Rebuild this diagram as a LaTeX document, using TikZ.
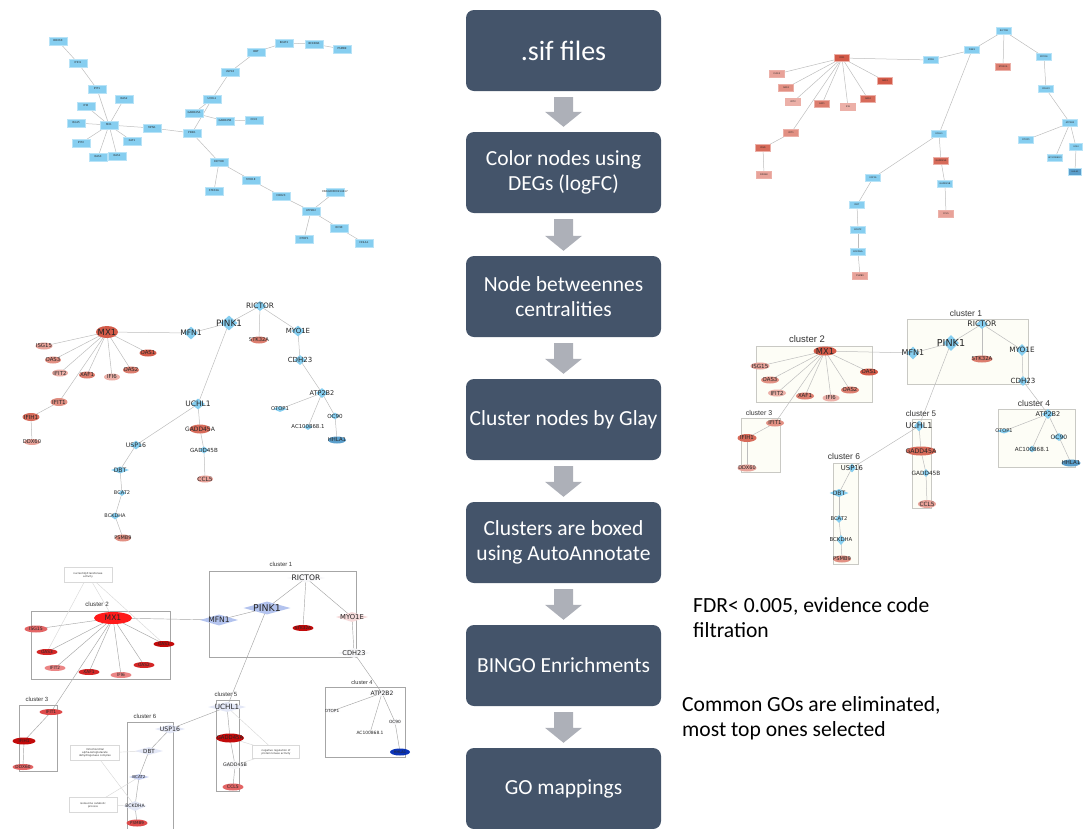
\documentclass[tikz,border=0pt]{standalone}
\usepackage{fontspec}
\setmainfont{Carlito}
\newfontfamily\netfont{DejaVu Sans}
\newfontfamily\clfont{Liberation Sans}
\usetikzlibrary{shapes.geometric,calc}
\pgfdeclarelayer{clusters}
\pgfdeclarelayer{links}
\pgfsetlayers{clusters,links,main}

% workflow colours
\definecolor{stepfill}{HTML}{44546A}
\definecolor{stepgray}{HTML}{ADB0B8}
% Cytoscape-style node colours
\definecolor{sky}{HTML}{86CEF0}
\definecolor{skyedge}{HTML}{B8E3F7}
\definecolor{skydark}{HTML}{5A9ECB}
\definecolor{rA}{HTML}{D35A48}
\definecolor{rB}{HTML}{D76B5A}
\definecolor{rC}{HTML}{DC7D6E}
\definecolor{rD}{HTML}{E29083}
\definecolor{rE}{HTML}{E8A299}
\definecolor{rF}{HTML}{ECB0A8}
\definecolor{linkgray}{HTML}{BDBDBD}
\definecolor{clfill}{HTML}{FDFDF6}
\definecolor{clline}{HTML}{C9C9C4}
% BINGO view colours
\definecolor{eMX}{HTML}{FF1A1A}
\definecolor{eR1}{HTML}{C20A0A}
\definecolor{eR2}{HTML}{D42626}
\definecolor{eR3}{HTML}{DE4A4A}
\definecolor{eR4}{HTML}{E36565}
\definecolor{eR5}{HTML}{EB8585}
\definecolor{eLav}{HTML}{B3C3EE}
\definecolor{eLav2}{HTML}{C6CFF0}
\definecolor{eLav3}{HTML}{E3E7F6}
\definecolor{ePink}{HTML}{F6DADA}
\definecolor{eWhite}{HTML}{F6F6F8}
\definecolor{eBlue}{HTML}{0B33B5}

% gene node: shape style, name, position, width, height, font size, label
\newcommand{\gn}[7]{%
  \node[#1, minimum width=#4pt, minimum height=#5pt] (#2) at (#3) {};
  \node[glabel, font={\netfont\fontsize{#6}{#6}\selectfont}] (#2t) at (#2.center) {#7};}

% interaction edges shared by all network views
\newcommand{\netlinks}[2]{%
  \begin{pgfonlayer}{links}
  \foreach \u/\v in {MX1/ISG15,MX1/OAS3,MX1/IFIT2,MX1/XAF1,MX1/IFI6,MX1/OAS2,MX1/OAS1,MX1/IFIT1,
      IFIT1/IFIH1,IFIH1/DDX60,MX1/MFN1,MFN1/PINK1,PINK1/RICTOR,RICTOR/STK32A,RICTOR/MYO1E,
      MYO1E/CDH23,CDH23/ATP2B2,ATP2B2/OTOP1,ATP2B2/AC,ATP2B2/OC90,OC90/HHLA1,PINK1/UCHL1,
      UCHL1/GADD45A,GADD45A/GADD45B,GADD45B/CCL5,UCHL1/USP16,USP16/DBT,DBT/BCAT2,
      BCAT2/BCKDHA,BCKDHA/PSMB9}
    {\draw[#2] (#1\u.center) -- (#1\v.center);}
  \end{pgfonlayer}}

\begin{document}
\begin{tikzpicture}[x=1pt,y=-1pt,
  flowbox/.style={rectangle, rounded corners=8pt, fill=stepfill, text=white,
    minimum width=195pt, minimum height=81pt, align=center, inner sep=0pt,
    font=\fontsize{21.5}{25}\selectfont},
  notetext/.style={anchor=base west, inner sep=0pt, text=black,
    font=\fontsize{21.6}{25}\selectfont},
  rectA/.style={rectangle, fill=sky, draw=skyedge, line width=0.5pt, inner sep=0pt},
  ell/.style={ellipse, inner sep=0pt},
  dia/.style={diamond, inner sep=0pt},
  glabel/.style={inner sep=0pt, text=black!85},
  link/.style={draw=linkgray, line width=0.5pt},
  linkE/.style={draw=black!35, line width=0.45pt},
  golink/.style={draw=black!15, line width=0.45pt},
  gobox/.style={rectangle, draw=black!15, fill=white, line width=0.4pt, inner sep=0pt,
    align=center, text=black!80, font={\netfont\fontsize{2.6}{3.1}\selectfont}},
  clboxD/.style={draw=clline, fill=clfill, line width=0.6pt},
  clboxE/.style={draw=black!35, fill=white, line width=0.5pt},
  cltext/.style={inner sep=0pt, text=black!80},
]
\useasboundingbox (0,0) rectangle (1083,828);

%% ---------------- workflow column ----------------
\node[flowbox, font=\fontsize{28}{32}\selectfont] (s1) at (563.5,50.5) {.sif files};
\node[flowbox] (s2) at (563.5,172.5) {Color nodes using\\DEGs (logFC)};
\node[flowbox] (s3) at (563.5,296.5) {Node betweennes\\centralities};
\node[flowbox] (s4) at (563.5,419.5) {Cluster nodes by Glay};
\node[flowbox] (s5) at (563.5,542.5) {Clusters are boxed\\using AutoAnnotate};
\node[flowbox] (s6) at (563.5,665.5) {BINGO Enrichments};
\node[flowbox] (s7) at (563.5,788.5) {GO mappings};

\foreach \a/\b in {s1/s2,s2/s3,s3/s4,s4/s5,s5/s6,s6/s7}{
  \fill[stepgray] ($(\a.south)+(-9.5,6)$) -- ($(\a.south)+(9.5,6)$)
    -- ($(\b.north)+(9.5,-20)$) -- ($(\b.north)+(18.5,-20)$) -- ($(\b.north)+(0,-5)$)
    -- ($(\b.north)+(-18.5,-20)$) -- ($(\b.north)+(-9.5,-20)$) -- cycle;
}

\node[notetext] (n1a) at (693,612) {FDR< 0.005, evidence code};
\node[notetext] (n1b) at (693,637) {filtration};
\node[notetext] (n2a) at (682,711) {Common GOs are eliminated,};
\node[notetext] (n2b) at (682,736) {most top ones selected};

%% ---------------- network from .sif (top left) ----------------
\gn{rectA}{aDDX60}{58,41}{18}{8}{2.6}{DDX60}
\gn{rectA}{aIFIH1}{78,63}{18}{8}{2.6}{IFIH1}
\gn{rectA}{aIFIT1}{97,89}{18}{8}{2.6}{IFIT1}
\gn{rectA}{aOAS2}{124,99}{18}{8}{2.6}{OAS2}
\gn{rectA}{aIFI6}{86,106}{18}{8}{2.6}{IFI6}
\gn{rectA}{aISG15}{76,123}{18}{8}{2.6}{ISG15}
\gn{rectA}{aMX1}{109,125}{18}{8}{2.6}{MX1}
\gn{rectA}{aIFIT2}{81,143}{18}{8}{2.6}{IFIT2}
\gn{rectA}{aXAF1}{132,141}{18}{8}{2.6}{XAF1}
\gn{rectA}{aOAS3}{98,157}{18}{8}{2.6}{OAS3}
\gn{rectA}{aOAS1}{117,156}{18}{8}{2.6}{OAS1}
\gn{rectA}{aMFN1}{152,128}{18}{8}{2.6}{MFN1}
\gn{rectA}{aPINK1}{192,133}{18}{8}{2.6}{PINK1}
\gn{rectA}{aGADD45A}{194,113}{18}{8}{2.6}{GADD45A}
\gn{rectA}{aUCHL1}{212,99}{18}{8}{2.6}{UCHL1}
\gn{rectA}{aGADD45B}{225,121}{18}{8}{2.6}{GADD45B}
\gn{rectA}{aCCL5}{254,120}{18}{8}{2.6}{CCL5}
\gn{rectA}{aUSP16}{230,72}{18}{8}{2.6}{USP16}
\gn{rectA}{aDBT}{256,52}{18}{8}{2.6}{DBT}
\gn{rectA}{aBCAT2}{284,43}{18}{8}{2.6}{BCAT2}
\gn{rectA}{aBCKDHA}{314,44}{18}{8}{2.6}{BCKDHA}
\gn{rectA}{aPSMB9}{342,49}{18}{8}{2.6}{PSMB9}
\gn{rectA}{aRICTOR}{219,162}{18}{8}{2.6}{RICTOR}
\gn{rectA}{aSTK32A}{214,191}{18}{8}{2.6}{STK32A}
\gn{rectA}{aMYO1E}{251,180}{18}{8}{2.6}{MYO1E}
\gn{rectA}{aCDH23}{281,196}{18}{8}{2.6}{CDH23}
\gn{rectA}{aAC}{335,192}{18}{8}{2.6}{ENSG00000214417}
\gn{rectA}{aATP2B2}{311,211}{18}{8}{2.6}{ATP2B2}
\gn{rectA}{aOC90}{339,228}{18}{8}{2.6}{OC90}
\gn{rectA}{aOTOP1}{304,239}{18}{8}{2.6}{OTOP1}
\gn{rectA}{aHHLA1}{364,243}{18}{8}{2.6}{HHLA1}
\netlinks{a}{link}

%% ---------------- DEG-coloured network (top right) ----------------
\gn{rectA,fill=rA,draw=rF}{bMX1}{842,58}{15}{7}{2.2}{MX1}
\gn{rectA,fill=rE,draw=rF}{bISG15}{777,74}{15}{7}{2.2}{ISG15}
\gn{rectA,fill=rD,draw=rF}{bOAS3}{786,88}{15}{7}{2.2}{OAS3}
\gn{rectA,fill=rF,draw=rF}{bIFIT2}{793,102}{15}{7}{2.2}{IFIT2}
\gn{rectA,fill=rC,draw=rF}{bXAF1}{822,104}{15}{7}{2.2}{XAF1}
\gn{rectA,fill=rF,draw=rF}{bIFI6}{848,107}{15}{7}{2.2}{IFI6}
\gn{rectA,fill=rB,draw=rF}{bOAS2}{868,99}{15}{7}{2.2}{OAS2}
\gn{rectA,fill=rA,draw=rF}{bOAS1}{885,81}{15}{7}{2.2}{OAS1}
\gn{rectA,fill=rD,draw=rF}{bIFIT1}{791,133}{15}{7}{2.2}{IFIT1}
\gn{rectA,fill=rB,draw=rF}{bIFIH1}{763,148}{15}{7}{2.2}{IFIH1}
\gn{rectA,fill=rE,draw=rF}{bDDX60}{764,175}{15}{7}{2.2}{DDX60}
\gn{rectA}{bMFN1}{931,60}{15}{7}{2.2}{MFN1}
\gn{rectA}{bPINK1}{972,50}{15}{7}{2.2}{PINK1}
\gn{rectA}{bRICTOR}{1004,31}{15}{7}{2.2}{RICTOR}
\gn{rectA,fill=rC,draw=rF}{bSTK32A}{1003,67}{15}{7}{2.2}{STK32A}
\gn{rectA}{bMYO1E}{1044,57}{15}{7}{2.2}{MYO1E}
\gn{rectA}{bCDH23}{1046,89}{15}{7}{2.2}{CDH23}
\gn{rectA}{bATP2B2}{1070,123}{15}{7}{2.2}{ATP2B2}
\gn{rectA}{bOTOP1}{1026,140}{15}{7}{2.2}{OTOP1}
\gn{rectA}{bAC}{1055,158}{15}{7}{2.2}{AC100868.1}
\gn{rectA}{bOC90}{1076,147}{13}{7}{2}{OC90}
\gn{rectA,fill=skydark}{bHHLA1}{1075,172}{13}{7}{2}{HHLA1}
\gn{rectA}{bUCHL1}{939,134}{15}{7}{2.2}{UCHL1}
\gn{rectA,fill=rB,draw=rF}{bGADD45A}{941,161}{15}{7}{2.2}{GADD45A}
\gn{rectA}{bGADD45B}{945,184}{15}{7}{2.2}{GADD45B}
\gn{rectA,fill=rE,draw=rF}{bCCL5}{946,214}{15}{7}{2.2}{CCL5}
\gn{rectA}{bUSP16}{873,178}{15}{7}{2.2}{USP16}
\gn{rectA}{bDBT}{857,205}{15}{7}{2.2}{DBT}
\gn{rectA}{bBCAT2}{858,230}{15}{7}{2.2}{BCAT2}
\gn{rectA}{bBCKDHA}{858,252}{15}{7}{2.2}{BCKDHA}
\gn{rectA,fill=rE,draw=rF}{bPSMB9}{860,276}{15}{7}{2.2}{PSMB9}
\netlinks{b}{link}

%% ---------------- betweenness-sized network (middle left) ----------------
\gn{ell,fill=rA}{cMX1}{107,332}{22}{12}{8.5}{MX1}
\gn{ell,fill=rE}{cISG15}{44,346}{17}{7}{5.4}{ISG15}
\gn{ell,fill=rD}{cOAS3}{53,360}{16}{7}{5.4}{OAS3}
\gn{ell,fill=rF}{cIFIT2}{60,373}{16}{7}{5.4}{IFIT2}
\gn{ell,fill=rC}{cXAF1}{87,375}{16}{7}{5.4}{XAF1}
\gn{ell,fill=rF}{cIFI6}{112,377}{16}{7}{5.4}{IFI6}
\gn{ell,fill=rC}{cOAS2}{131,370}{16}{7}{5.4}{OAS2}
\gn{ell,fill=rA}{cOAS1}{148,353}{17}{7}{5.4}{OAS1}
\gn{ell,fill=rD}{cIFIT1}{59,402}{17}{8}{5.6}{IFIT1}
\gn{ell,fill=rB}{cIFIH1}{31,417}{17}{8}{5.6}{IFIH1}
\gn{ell,fill=rE}{cDDX60}{32,442}{16}{6}{5.2}{DDX60}
\gn{dia,fill=sky}{cMFN1}{191,333}{14}{13}{7.6}{MFN1}
\gn{dia,fill=sky}{cPINK1}{229,323}{17}{15}{8.8}{PINK1}
\gn{dia,fill=sky}{cRICTOR}{260,306}{13}{10}{7.4}{RICTOR}
\gn{ell,fill=rC}{cSTK32A}{259,340}{17}{7}{5.2}{STK32A}
\gn{dia,fill=sky}{cMYO1E}{298,331}{13}{11}{7}{MYO1E}
\gn{dia,fill=sky}{cCDH23}{300,360}{12}{10}{7}{CDH23}
\gn{dia,fill=sky}{cATP2B2}{322,393}{12}{10}{6.5}{ATP2B2}
\gn{dia,fill=sky}{cOTOP1}{280,409}{14}{6}{5.2}{OTOP1}
\gn{dia,fill=sky}{cAC}{308,427}{9}{6}{5.4}{AC100868.1}
\gn{dia,fill=sky}{cOC90}{335,416}{10}{7}{5.6}{OC90}
\gn{ell,fill=skydark}{cHHLA1}{337,440}{18}{7}{5.3}{HHLA1}
\gn{dia,fill=sky}{cUCHL1}{198,404}{14}{11}{7.5}{UCHL1}
\gn{ell,fill=rB}{cGADD45A}{200,429}{21}{9}{6}{GADD45A}
\gn{dia,fill=sky}{cGADD45B}{204,450}{10}{7}{5.6}{GADD45B}
\gn{ell,fill=rE}{cCCL5}{205,479}{16}{7}{5.8}{CCL5}
\gn{dia,fill=sky}{cUSP16}{136,445}{12}{9}{6.2}{USP16}
\gn{dia,fill=sky}{cDBT}{120,470}{18}{7}{6}{DBT}
\gn{dia,fill=sky}{cBCAT2}{122,493}{8}{6}{5}{BCAT2}
\gn{dia,fill=sky}{cBCKDHA}{115,516}{10}{7}{5}{BCKDHA}
\gn{ell,fill=rD}{cPSMB9}{123,538}{16}{7}{5}{PSMB9}
\netlinks{c}{link}

%% ---------------- clustered network (middle right) ----------------
\begin{pgfonlayer}{clusters}
  \draw[clboxD] (907,319) rectangle (1028,384);
  \draw[clboxD] (756,346) rectangle (872,402);
  \draw[clboxD] (741,418) rectangle (780,472);
  \draw[clboxD] (998,409) rectangle (1075,467);
  \draw[clboxD] (912,419) rectangle (931,508);
  \draw[clboxD] (833,463) rectangle (858,564);
\end{pgfonlayer}
\node[cltext, font={\clfont\fontsize{8.5}{9}\selectfont}] (dc1) at (966,313) {cluster 1};
\node[cltext, font={\clfont\fontsize{9.5}{10}\selectfont}] (dc2) at (807,339) {cluster 2};
\node[cltext, font={\clfont\fontsize{7}{8}\selectfont}] (dc3) at (759,413) {cluster 3};
\node[cltext, font={\clfont\fontsize{8.5}{9}\selectfont}] (dc4) at (1034,403) {cluster 4};
\node[cltext, font={\clfont\fontsize{8}{9}\selectfont}] (dc5) at (921,414) {cluster 5};
\node[cltext, font={\clfont\fontsize{8.5}{9}\selectfont}] (dc6) at (844,456) {cluster 6};

\gn{ell,fill=rA}{dMX1}{825,351}{23}{9}{8.3}{MX1}
\gn{ell,fill=rE}{dISG15}{760,366}{19}{7}{5.6}{ISG15}
\gn{ell,fill=rD}{dOAS3}{770,380}{18}{7}{5.4}{OAS3}
\gn{ell,fill=rF}{dIFIT2}{777,393}{18}{7}{5.4}{IFIT2}
\gn{ell,fill=rC}{dXAF1}{805,396}{18}{7}{5.4}{XAF1}
\gn{ell,fill=rF}{dIFI6}{831,398}{17}{7}{5.4}{IFI6}
\gn{ell,fill=rC}{dOAS2}{850,390}{18}{7}{5.4}{OAS2}
\gn{ell,fill=rA}{dOAS1}{869,372}{18}{7}{5.4}{OAS1}
\gn{ell,fill=rD}{dIFIT1}{775,423}{18}{7}{5.4}{IFIT1}
\gn{ell,fill=rB}{dIFIH1}{747,438}{19}{8}{5.4}{IFIH1}
\gn{ell,fill=rE}{dDDX60}{747,468}{19}{7}{5}{DDX60}
\gn{dia,fill=sky}{dMFN1}{913,353}{13}{13}{8}{MFN1}
\gn{dia,fill=sky}{dPINK1}{951,343}{16}{16}{9.6}{PINK1}
\gn{dia,fill=sky}{dRICTOR}{982,324}{12}{10}{7.7}{RICTOR}
\gn{ell,fill=rC}{dSTK32A}{982,359}{21}{7}{5.4}{STK32A}
\gn{dia,fill=sky}{dMYO1E}{1022,350}{12}{12}{7.3}{MYO1E}
\gn{dia,fill=sky}{dCDH23}{1023,381}{10}{10}{7.1}{CDH23}
\gn{dia,fill=sky}{dATP2B2}{1048,414}{12}{10}{6.5}{ATP2B2}
\gn{dia,fill=sky}{dOTOP1}{1004,431}{15}{5}{5}{OTOP1}
\gn{dia,fill=sky}{dOC90}{1059,437}{12}{8}{6}{OC90}
\gn{dia,fill=sky}{dAC}{1032,449}{8}{7}{5.6}{AC100868.1}
\gn{ell,fill=skydark}{dHHLA1}{1071,463}{19}{7}{5.4}{HHLA1}
\gn{dia,fill=sky}{dUCHL1}{919,426}{10}{11}{8}{UCHL1}
\gn{ell,fill=rB}{dGADD45A}{921,451}{30}{9}{6.2}{GADD45A}
\gn{dia,fill=sky}{dGADD45B}{926,473}{8}{8}{5.8}{GADD45B}
\gn{ell,fill=rE}{dCCL5}{927,504}{18}{8}{5.8}{CCL5}
\gn{dia,fill=sky}{dUSP16}{852,468}{8}{9}{6.8}{USP16}
\gn{dia,fill=sky}{dDBT}{839,493}{19}{8}{6}{DBT}
\gn{dia,fill=sky}{dBCAT2}{839,519}{8}{8}{5.2}{BCAT2}
\gn{dia,fill=sky}{dBCKDHA}{841,540}{9}{10}{5.4}{BCKDHA}
\gn{ell,fill=rD}{dPSMB9}{842,559}{18}{7}{5.2}{PSMB9}
\netlinks{d}{link}

%% ---------------- BINGO / GO network (bottom left) ----------------
\begin{pgfonlayer}{clusters}
  \draw[clboxE] (209,571) rectangle (356,657);
  \draw[clboxE] (31,611) rectangle (170,679);
  \draw[clboxE] (19,705) rectangle (57,771);
  \draw[clboxE] (325,687) rectangle (405,757);
  \draw[clboxE] (216,700) rectangle (239,791);
  \draw[clboxE] (127,722) rectangle (173,840);
\end{pgfonlayer}
\node[cltext, font={\clfont\fontsize{6}{7}\selectfont}] (ec1) at (281,564) {cluster 1};
\node[cltext, font={\clfont\fontsize{6.2}{7}\selectfont}] (ec2) at (97,604) {cluster 2};
\node[cltext, font={\clfont\fontsize{6}{7}\selectfont}] (ec3) at (37,699) {cluster 3};
\node[cltext, font={\clfont\fontsize{5.6}{7}\selectfont}] (ec4) at (362,682) {cluster 4};
\node[cltext, font={\clfont\fontsize{6}{7}\selectfont}] (ec5) at (226,694) {cluster 5};
\node[cltext, font={\clfont\fontsize{6}{7}\selectfont}] (ec6) at (145,716) {cluster 6};

\gn{ell,fill=eMX}{eMX1}{113,618}{38}{12}{7.6}{MX1}
\gn{ell,fill=eR4}{eISG15}{36,629}{23}{7}{4.6}{ISG15}
\gn{ell,fill=eR2}{eOAS3}{47,652}{21}{6}{4.3}{OAS3}
\gn{ell,fill=eR5}{eIFIT2}{55,668}{21}{6}{4.3}{IFIT2}
\gn{ell,fill=eR2}{eXAF1}{89,672}{21}{6}{4.3}{XAF1}
\gn{ell,fill=eR5}{eIFI6}{121,675}{21}{6}{4.3}{IFI6}
\gn{ell,fill=eR2}{eOAS2}{144,665}{21}{6}{4.3}{OAS2}
\gn{ell,fill=eR1}{eOAS1}{164,644}{21}{6}{4.3}{OAS1}
\gn{ell,fill=eR3}{eIFIT1}{51,712}{23}{6}{4.3}{IFIT1}
\gn{ell,fill=eR1}{eIFIH1}{24,741}{23}{7}{4.3}{IFIH1}
\gn{ell,fill=eR4}{eDDX60}{23,767}{21}{6}{4.3}{DDX60}
\gn{dia,fill=eLav}{eMFN1}{219,620}{38}{11}{7.6}{MFN1}
\gn{dia,fill=eLav}{ePINK1}{267,608}{47}{13}{9.4}{PINK1}
\gn{dia,fill=eWhite}{eRICTOR}{306,578}{38}{9}{7.6}{RICTOR}
\gn{ell,fill=eR1}{eSTK32A}{303,628}{21}{6}{4.2}{STK32A}
\gn{dia,fill=ePink}{eMYO1E}{352,617}{32}{10}{6.8}{MYO1E}
\gn{dia,fill=eWhite}{eCDH23}{354,653}{32}{10}{6.6}{CDH23}
\gn{dia,fill=eWhite}{eATP2B2}{382,693}{27}{7}{6}{ATP2B2}
\gn{dia,fill=eWhite}{eOTOP1}{332,711}{17}{5}{4.2}{OTOP1}
\gn{dia,fill=eWhite}{eOC90}{395,722}{13}{6}{4.3}{OC90}
\gn{dia,fill=white}{eAC}{370,733}{8}{4}{4.4}{AC100868.1}
\gn{ell,fill=eBlue}{eHHLA1}{400,752}{20}{7}{3.6}{HHLA1}
\gn{dia,fill=eLav3}{eUCHL1}{227,707}{38}{10}{7.2}{UCHL1}
\gn{ell,fill=eR1}{eGADD45A}{230,738}{28}{9}{5.3}{GADD45A}
\gn{dia,fill=eWhite}{eGADD45B}{235,765}{27}{9}{4.8}{GADD45B}
\gn{ell,fill=eR4}{eCCL5}{233,787}{21}{7}{4.5}{CCL5}
\gn{dia,fill=eLav3}{eUSP16}{170,729}{30}{9}{6.2}{USP16}
\gn{dia,fill=eLav3}{eDBT}{149,751}{28}{8}{5.6}{DBT}
\gn{dia,fill=eLav2}{eBCAT2}{139,777}{20}{6}{4.1}{BCAT2}
\gn{dia,fill=eLav3}{eBCKDHA}{135,806}{23}{10}{4.6}{BCKDHA}
\gn{ell,fill=eR3}{ePSMB9}{137,823}{21}{7}{4}{PSMB9}
\netlinks{e}{linkE}

% GO term nodes and their annotations
\node[gobox, minimum width=48pt, minimum height=15pt] (go1) at (88,575) {nucleotidyltransferase\\activity};
\node[gobox, minimum width=47pt, minimum height=13pt] (go2) at (276,752) {negative regulation of\\protein kinase activity};
\node[gobox, minimum width=49pt, minimum height=15pt] (go3) at (95,753) {mitochondrial\\alpha-ketoglutarate\\dehydrogenase complex};
\node[gobox, minimum width=48pt, minimum height=15pt] (go4) at (93,805) {isoleucine catabolic\\process};
\begin{pgfonlayer}{links}
  \foreach \g/\t in {go1/eMX1,go1/eOAS3,go1/eOAS1,go2/eUCHL1,go2/eGADD45A,go2/eGADD45B,
      go3/eDBT,go3/eBCKDHA,go4/eBCAT2,go4/eBCKDHA}
    {\draw[golink] (\g.center) -- (\t.center);}
\end{pgfonlayer}

\end{tikzpicture}
\end{document}
